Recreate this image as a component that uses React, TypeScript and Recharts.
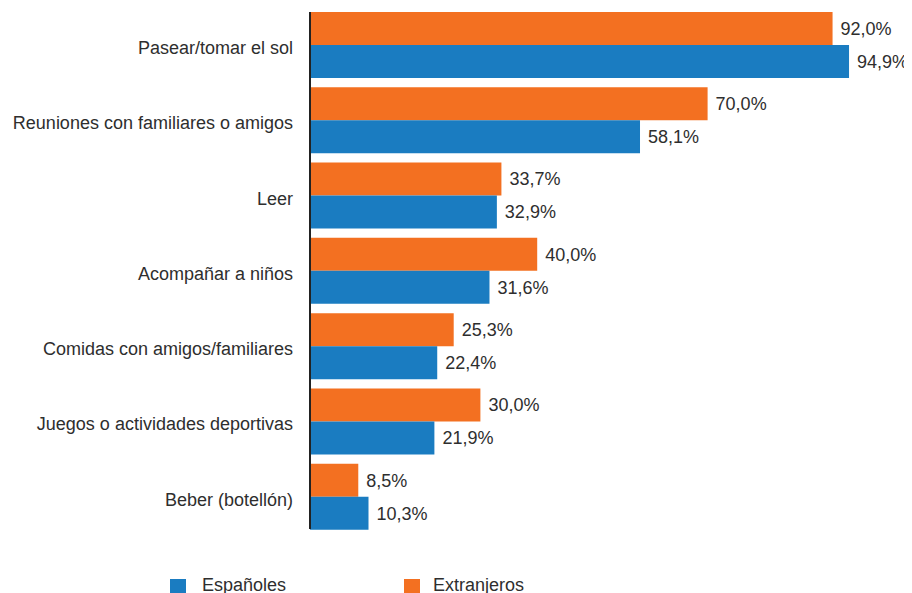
import React from "react";
import { BarChart, Bar, XAxis, YAxis, LabelList } from "recharts";

const categories = [
  "Pasear/tomar el sol",
  "Reuniones con familiares o amigos",
  "Leer",
  "Acompañar a niños",
  "Comidas con amigos/familiares",
  "Juegos o actividades deportivas",
  "Beber (botellón)",
];
const espanoles = [94.9, 58.1, 32.9, 31.6, 22.4, 21.9, 10.3];
const extranjeros = [92.0, 70.0, 33.7, 40.0, 25.3, 30.0, 8.5];
const seriesNames = ["Españoles", "Extranjeros"];

const BLUE = "#1A7CC1";
const ORANGE = "#F37021";
const TEXT = "#2e2e2e";
const FONT = "'Liberation Sans', Arial, Helvetica, sans-serif";

const data = categories.map((name, i) => ({
  name,
  esp: espanoles[i],
  ext: extranjeros[i],
}));

const fmt = (v: any) => Number(v).toFixed(1).replace(".", ",") + "%";

const CategoryTick = (props: any) => {
  const { y, payload } = props;
  return (
    <text
      x={285}
      y={y + 3}
      dy="0.355em"
      textAnchor="end"
      fill={TEXT}
      fontSize={18}
      fontFamily={FONT}
    >
      {payload.value}
    </text>
  );
};

export default function App() {
  return (
    <div
      style={{
        position: "relative",
        width: 904,
        height: 585,
        overflow: "hidden",
        fontFamily: FONT,
        background: "#fff",
      }}
    >
      <BarChart
        width={904}
        height={585}
        data={data}
        layout="vertical"
        margin={{ top: 4, right: 34, left: 0, bottom: 64 }}
        barCategoryGap={5}
        barGap={0}
      >
        <XAxis type="number" domain={[0, 100]} hide />
        <YAxis
          type="category"
          dataKey="name"
          width={302}
          axisLine={{ stroke: "#222", strokeWidth: 2 }}
          tickLine={false}
          tick={<CategoryTick />}
          padding={{ top: -5, bottom: -5 }}
          interval={0}
        />
        <Bar dataKey="ext" fill={ORANGE} isAnimationActive={false}>
          <LabelList
            dataKey="ext"
            position="right"
            offset={8}
            formatter={fmt}
            fill={TEXT}
            fontSize={18}
            fontFamily={FONT}
          />
        </Bar>
        <Bar dataKey="esp" fill={BLUE} isAnimationActive={false}>
          <LabelList
            dataKey="esp"
            position="right"
            offset={8}
            formatter={fmt}
            fill={TEXT}
            fontSize={18}
            fontFamily={FONT}
          />
        </Bar>
      </BarChart>
      <div style={{ position: "absolute", left: 162, top: 571, width: 16, height: 16, background: BLUE }} />
      <div
        style={{
          position: "absolute",
          left: 194,
          top: 567,
          fontSize: 18,
          lineHeight: "21px",
          color: TEXT,
          whiteSpace: "nowrap",
        }}
      >
        {seriesNames[0]}
      </div>
      <div style={{ position: "absolute", left: 396, top: 571, width: 16, height: 16, background: ORANGE }} />
      <div
        style={{
          position: "absolute",
          left: 425,
          top: 567,
          fontSize: 18,
          lineHeight: "21px",
          color: TEXT,
          whiteSpace: "nowrap",
        }}
      >
        {seriesNames[1]}
      </div>
    </div>
  );
}
